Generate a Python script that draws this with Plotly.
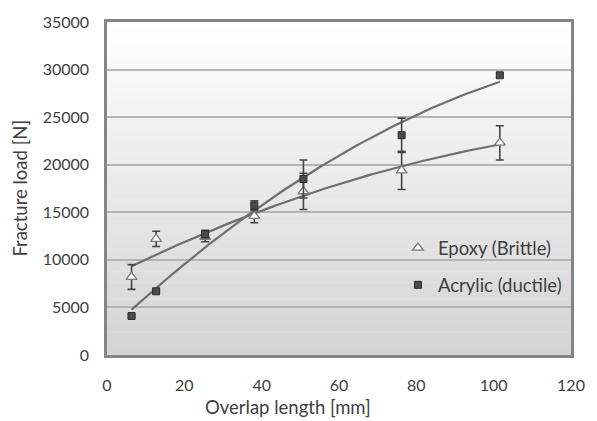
import numpy as np
import plotly.graph_objects as go

# Overlap lengths (mm) and measured fracture loads (N)
overlap_mm = [6.35, 12.7, 25.4, 38.1, 50.8, 76.2, 101.6]
epoxy_load = [8200, 12200, 12400, 14600, 17200, 19400, 22300]
epoxy_err = [1300, 800, 500, 700, 1900, 2000, 1800]
acrylic_load = [4100, 6700, 12700, 15700, 18500, 23100, 29400]
acrylic_err = [150, 150, 400, 500, 2000, 1800, 200]

x_ticks = [0, 20, 40, 60, 80, 100, 120]
y_ticks = [0, 5000, 10000, 15000, 20000, 25000, 30000, 35000]
y_tick_text = [str(v) for v in y_ticks]

FONT = "Lato"
TEXT = "#404040"
TICK_SIZE = 16
TITLE_SIZE = 18.5

fig = go.Figure()

# Second-order polynomial trendlines through each series
xs = np.linspace(min(overlap_mm), max(overlap_mm), 120)
for ys in (epoxy_load, acrylic_load):
    coef = np.polyfit(overlap_mm, ys, 2)
    fig.add_trace(go.Scatter(
        x=xs, y=np.polyval(coef, xs), mode="lines",
        line=dict(color="#6f6f6f", width=2.2),
        showlegend=False, hoverinfo="skip"))

fig.add_trace(go.Scatter(
    x=overlap_mm, y=epoxy_load, mode="markers", name="Epoxy (Brittle)",
    legendgroup="a",
    marker=dict(symbol="triangle-up", size=9.5, color="white",
                line=dict(color="#7a7a7a", width=1.3)),
    error_y=dict(type="data", array=epoxy_err, visible=True,
                 color="#454545", thickness=1.6, width=4)))

fig.add_trace(go.Scatter(
    x=overlap_mm, y=acrylic_load, mode="markers", name="Acrylic (ductile)",
    legendgroup="b",
    marker=dict(symbol="square", size=7, color="#4a4a4a",
                line=dict(color="#2e2e2e", width=1)),
    error_y=dict(type="data", array=acrylic_err, visible=True,
                 color="#454545", thickness=1.6, width=4)))

# Vertical grey gradient behind the plot area
n_strips = 60
top_c, bot_c = np.array([255, 255, 255]), np.array([212, 212, 212])
shapes = []
for i in range(n_strips):
    t = (i + 0.5) / n_strips
    c = (top_c + (bot_c - top_c) * t).astype(int)
    shapes.append(dict(
        type="rect", xref="x domain", yref="y domain",
        x0=0, x1=1, y0=1 - (i + 1) / n_strips, y1=1 - i / n_strips + 0.001,
        fillcolor=f"rgb({c[0]},{c[1]},{c[2]})", line=dict(width=0),
        layer="below"))

fig.update_layout(
    width=597, height=421,
    margin=dict(l=107, r=15, t=14, b=66),
    paper_bgcolor="white", plot_bgcolor="rgba(0,0,0,0)",
    font=dict(family=FONT, size=TICK_SIZE, color=TEXT),
    shapes=shapes,
    showlegend=True,
    legend=dict(x=0.627, y=0.265, xanchor="left", yanchor="middle",
                bgcolor="rgba(0,0,0,0)", traceorder="grouped",
                tracegroupgap=10,
                font=dict(family=FONT, size=TITLE_SIZE, color=TEXT),
                itemwidth=30),
    annotations=[
        dict(text="Overlap length [mm]", xref="paper", yref="paper",
             x=(292 - 107) / 475, y=(355 - 408) / 341,
             xanchor="center", yanchor="middle", showarrow=False,
             font=dict(family=FONT, size=TITLE_SIZE, color=TEXT)),
        dict(text="Fracture load [N]", xref="paper", yref="paper",
             x=(17 - 107) / 475, y=0.5, textangle=-90,
             xanchor="center", yanchor="middle", showarrow=False,
             font=dict(family=FONT, size=TITLE_SIZE, color=TEXT)),
    ],
)

fig.update_xaxes(range=[0, 120], tickvals=x_ticks, ticks="", showgrid=False,
                 zeroline=False, showline=True, linecolor="#858585",
                 linewidth=2.5, mirror=True, ticklabelstandoff=14,
                 tickfont=dict(family=FONT, size=TICK_SIZE, color=TEXT))
fig.update_yaxes(range=[0, 35000], tickvals=y_ticks, ticktext=y_tick_text,
                 ticks="", showgrid=True,
                 gridcolor="#b4b4b4", gridwidth=2, zeroline=False,
                 showline=True, linecolor="#858585", linewidth=2.5,
                 mirror=True, ticklabelstandoff=12,
                 tickfont=dict(family=FONT, size=TICK_SIZE, color=TEXT))

fig.write_html("out.html")
